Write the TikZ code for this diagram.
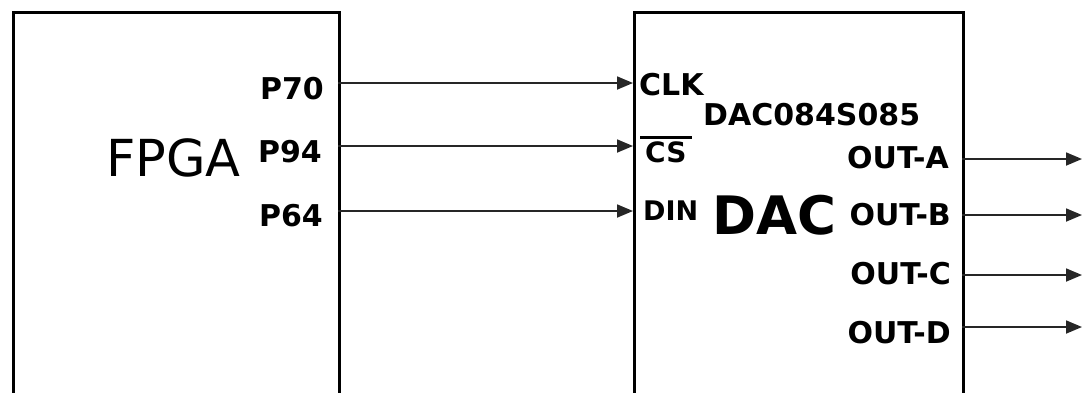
\documentclass[tikz,border=0pt]{standalone}
\usepackage{fontspec}
\setmainfont{DejaVu Sans}
\usetikzlibrary{arrows.meta}
\begin{document}
\begin{tikzpicture}[x=1pt,y=-1pt,
  box/.style={draw, line width=3pt, rectangle, inner sep=0pt, anchor=north west},
  pin/.style={inner sep=0pt, font=\bfseries\fontsize{30}{36}\selectfont},
  wire/.style={line width=1.8pt, draw=black!85, -{Triangle[length=16pt,width=13pt]}}]
\useasboundingbox (0,0) rectangle (1083,392);
\clip (0,0) rectangle (1083,392);
% boxes
\node[box, minimum width=326pt, minimum height=420pt] (fpga) at (12,11) {};
\node[box, minimum width=329pt, minimum height=420pt] (dac) at (633,11) {};
% FPGA labels
\node[anchor=base west, inner sep=0pt, font=\fontsize{51}{60}\selectfont] (fpgalbl) at (106,176) {FPGA};
\node[pin, anchor=base east] (p70) at (324,99) {P70};
\node[pin, anchor=base east] (p94) at (322,162) {P94};
\node[pin, anchor=base east] (p64) at (323,226) {P64};
% DAC labels
\node[pin, anchor=base west] (clk) at (639,95) {CLK};
\node[pin, anchor=base west, font=\bfseries\fontsize{28}{34}\selectfont] (cs) at (645,162) {CS};
\draw[line width=3pt] (640,137) -- (692,137);
\node[pin, anchor=base west, font=\bfseries\fontsize{27}{32}\selectfont] (din) at (643,220) {DIN};
\node[pin, anchor=base west] (part) at (703,125) {DAC084S085};
\node[anchor=base west, inner sep=0pt, font=\bfseries\fontsize{53}{60}\selectfont] (daclbl) at (712,234) {DAC};
\node[pin, anchor=base east] (oa) at (949,168) {OUT-A};
\node[pin, anchor=base east] (ob) at (951,225) {OUT-B};
\node[pin, anchor=base east] (oc) at (951,284) {OUT-C};
\node[pin, anchor=base east] (od) at (951,343) {OUT-D};
% port coordinates
\coordinate (f70) at (338,83);
\coordinate (f94) at (338,146);
\coordinate (f64) at (338,211);
\coordinate (dclk) at (633,83);
\coordinate (dcs) at (633,146);
\coordinate (ddin) at (633,211);
\coordinate (da) at (962,159);
\coordinate (db) at (962,215);
\coordinate (dc) at (962,275);
\coordinate (dd) at (962,327);
\coordinate (ea) at (1082,159);
\coordinate (eb) at (1082,215);
\coordinate (ec) at (1082,275);
\coordinate (ed) at (1082,327);
% wires
\draw[wire] (f70) -- (dclk);
\draw[wire] (f94) -- (dcs);
\draw[wire] (f64) -- (ddin);
\draw[wire] (da) -- (ea);
\draw[wire] (db) -- (eb);
\draw[wire] (dc) -- (ec);
\draw[wire] (dd) -- (ed);
\end{tikzpicture}
\end{document}
